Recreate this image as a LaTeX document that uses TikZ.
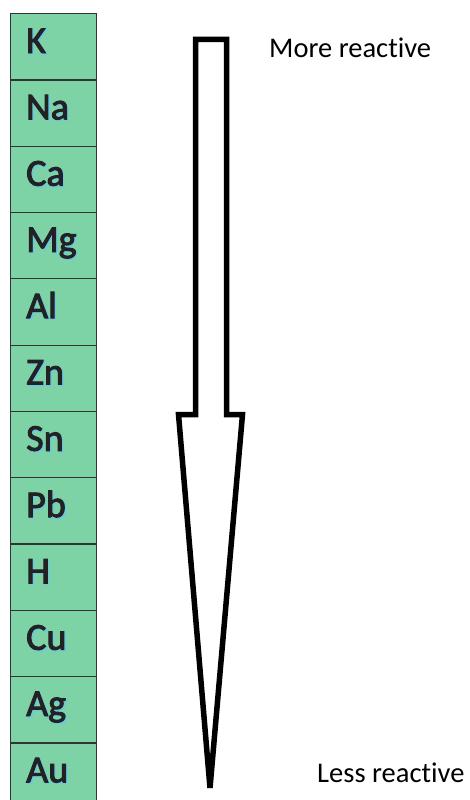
\documentclass[tikz,border=0pt]{standalone}
\usepackage{fontspec}
\usetikzlibrary{calc}
\setmainfont{Carlito}[Ligatures=NoCommon]
\newfontfamily\symfont{Carlito}[FakeBold=2.5,Ligatures=NoCommon]
\definecolor{cellgreen}{HTML}{7DD3A5}
\definecolor{cellline}{HTML}{333333}
\definecolor{symtext}{HTML}{222222}
\definecolor{symglow}{HTML}{6CC6E6}
\begin{document}
\begin{tikzpicture}[x=1pt,y=-1pt,
  cell/.style={fill=cellgreen,draw=cellline,line width=1.2pt,minimum width=86pt,minimum height=66.3pt,inner sep=0pt,anchor=north west},
  sym/.style={font=\symfont\fontsize{38}{38}\selectfont,anchor=base west,inner sep=0pt},
  label/.style={font=\fontsize{28.5}{28.5}\selectfont,anchor=base west,inner sep=0pt,text=black},
  bigarrow/.style={draw=black,line width=5.5pt,miter limit=10}]
\useasboundingbox (0,0) rectangle (469,800);
\begin{scope}
\clip (0,0) rectangle (469,800);
\foreach \s [count=\i from 0] in {K,Na,Ca,Mg,Al,Zn,Sn,Pb,H,Cu,Ag,Au}{
  \node[cell] (c\i) at (9.5,{13+66.3*\i}) {};
  \node[sym,text=symglow] at ($(c\i.north west)+(17.8,41.3)$) {\s};
  \node[sym,text=symtext] (s\i) at ($(c\i.north west)+(16.5,40)$) {\s};
}
\end{scope}
% reactivity arrow
\draw[bigarrow] (195.5,39.5) -- (226.5,39.5) -- (226.5,414.5) -- (242.5,414.5)
  -- (210,788) -- (178.5,414.5) -- (195.5,414.5) -- cycle;
\node[label] (more) at (269,57) {More reactive};
\node[label] (less) at (317,782) {Less reactive};
\end{tikzpicture}
\end{document}
